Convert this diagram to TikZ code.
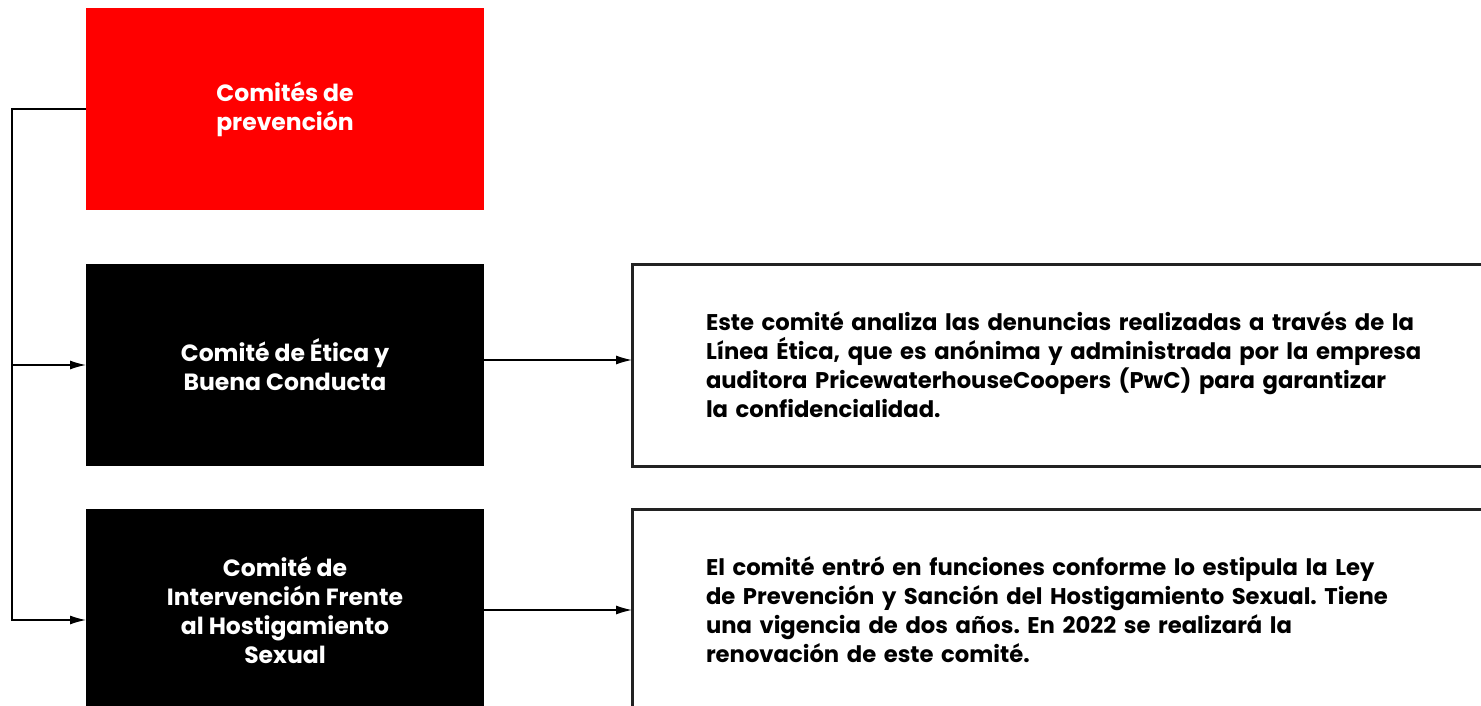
\documentclass[tikz,border=0pt]{standalone}
\usepackage{fontspec}
\setmainfont{Poppins}[BoldFont={Poppins Bold}]
\frenchspacing
\usetikzlibrary{positioning,arrows.meta}
\definecolor{cred}{RGB}{255,0,0}
\definecolor{frame}{RGB}{34,34,34}

\begin{document}
\begin{tikzpicture}[
    x=1pt,y=-1pt,
    node distance=148pt,
    head/.style={fill=cred,minimum width=398pt,minimum height=202pt,align=center,inner sep=0pt,
                 outer sep=0pt,text=white,font=\fontsize{23.5}{29}\selectfont\bfseries},
    comite/.style={head,fill=black},
    desc/.style={draw=frame,line width=3pt,fill=white,minimum width=870pt,minimum height=202pt,
                 text width=722pt,align=left,outer sep=0pt,font=\fontsize{22.7}{29}\selectfont\bfseries},
    arr/.style={-{Latex[length=16pt,width=9pt]},line width=1.3pt}
]
\clip (0,0) rectangle (1481,706);
\node[head] (cprev) at (285,109) {Comités de\\prevención};
\node[comite, below=54pt of cprev] (cetica) {Comité de Ética y\\Buena Conducta};
\node[comite, below=43pt of cetica] (chost) {Comité de\\Intervención Frente\\al Hostigamiento\\Sexual};
\node[desc, right=of cetica] (detica) {Este comité analiza las denuncias realizadas a través de la\\
  Línea Ética, que es anónima y administrada por la empresa\\
  auditora PricewaterhouseCoopers (PwC) para garantizar\\
  la confidencialidad.};
\node[desc, right=of chost] (dhost) {El comité entró en funciones conforme lo estipula la Ley\\
  de Prevención y Sanción del Hostigamiento Sexual. Tiene\\
  una vigencia de dos años. En 2022 se realizará la\\
  renovación de este comité.};
% tronco de la izquierda
\coordinate (bend) at ([xshift=-74pt]cprev.west);
\draw[arr] (cprev.west) -- (bend) |- ([yshift=-10pt]chost.west);
\draw[arr] (bend |- cetica.west) -- (cetica.west);
\draw[arr] ([yshift=5pt]cetica.east) -- ([yshift=5pt]detica.west);
\draw[arr] (chost.east) -- (dhost.west);
\end{tikzpicture}
\end{document}
